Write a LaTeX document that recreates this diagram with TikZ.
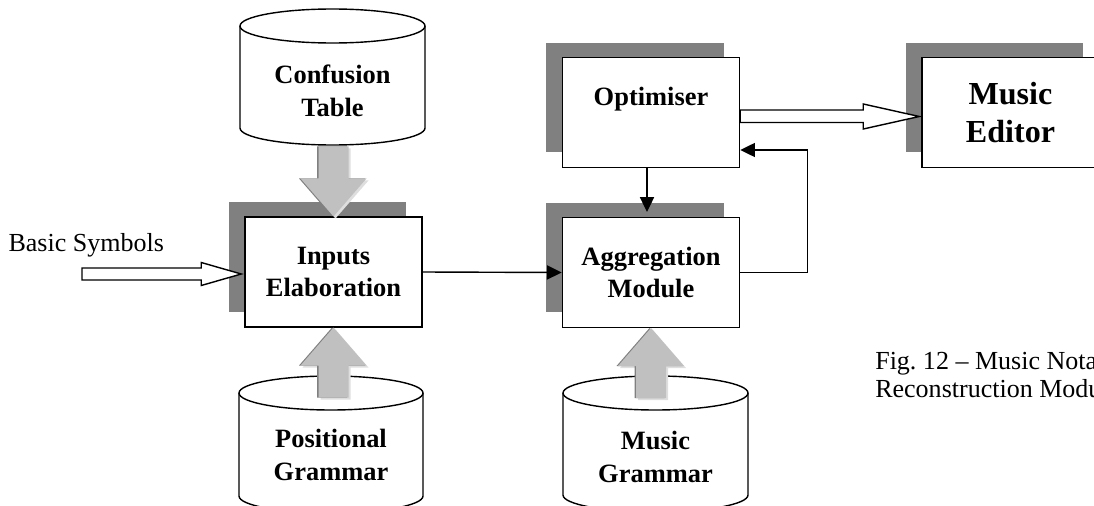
\documentclass[tikz,border=0pt]{standalone}
\usepackage{fontspec}
\setmainfont{Liberation Serif}
\usetikzlibrary{arrows.meta,calc,shadows}

\definecolor{arrgray}{RGB}{192,192,192}
\definecolor{arrlight}{RGB}{222,222,222}
\definecolor{arrdark}{RGB}{128,128,128}

\tikzset{
  modbox/.style={draw, line width=1pt, fill=white, minimum width=4.425cm,
    minimum height=2.74cm, inner sep=0pt, align=center,
    font=\fontsize{18.8}{23.1}\selectfont\bfseries,
    drop shadow={shadow xshift=-0.4cm, shadow yshift=0.375cm, fill=arrdark, opacity=1}},
  dbline/.style={line width=1pt},
  dbtext/.style={align=center, inner sep=0pt, font=\fontsize{18.8}{23.1}\selectfont\bfseries},
  plain/.style={inner sep=0pt, font=\fontsize{18.5}{20}\selectfont},
  conn/.style={line width=1pt, -{Triangle[length=10.5pt,width=10pt]}},
  hollow/.style={draw, line width=1pt, fill=white, line join=miter}
}

% database drum: left x, right x, top y, bottom y
\newcommand{\dbcyl}[4]{%
  \draw[dbline] (#1,#3) -- (#1,#4) arc[start angle=180, end angle=0, x radius={(#2-#1)/2}, y radius=17] -- (#2,#3);
  \draw[dbline] ({(#1+#2)/2},#3) ellipse[x radius={(#2-#1)/2}, y radius=17];
}
% grey block arrow: tip, 1 = points up, -1 = points down
\newcommand{\garrow}[2]{%
  \fill[arrlight, shift={($(#1)+(2,2)$)}, yscale=#2] (0,0) -- (33,38) -- (15,38) -- (15,70) -- (-15,70) -- (-15,38) -- (-33,38) -- cycle;
  \fill[arrdark, shift={($(#1)+(-1.5,0)$)}, yscale=#2] (0,0) -- (33,38) -- (15,38) -- (15,70) -- (-15,70) -- (-15,38) -- (-33,38) -- cycle;
  \fill[arrgray, shift={(#1)}, yscale=#2] (0,0) -- (33,38) -- (15,38) -- (15,70) -- (-15,70) -- (-15,38) -- (-33,38) -- cycle;
}

\begin{document}
\begin{tikzpicture}[x=0.025cm, y=-0.025cm]
  \useasboundingbox (0,0) rectangle (1094,506);
  \clip (0,0) rectangle (1094,506);

  % modules
  \node[modbox] (inp) at (333.5,272) {Inputs\\Elaboration};
  \node[modbox] (agg) at (651,272.5) {Aggregation\\Module};
  \node[modbox] (opt) at (651,112.5) {Optimiser\\\mbox{}};
  \node[modbox, font=\fontsize{22.8}{27}\selectfont\bfseries] (ed) at (1010.5,112.5) {Music\\Editor};

  % databases
  \dbcyl{240}{425}{26}{128}
  \node[dbtext] (conf) at (332.5,91) {Confusion\\Table};
  \dbcyl{239}{423}{393}{496}
  \node[dbtext] (posg) at (331,455) {Positional\\Grammar};
  \dbcyl{563}{748}{393}{495}
  \node[dbtext] (musg) at (655.5,457) {Music\\Grammar};

  % grey arrows
  \garrow{inp.north}{-1}
  \garrow{inp.south}{1}
  \garrow{agg.south}{1}

  % input
  \node[plain, anchor=base west] (bsym) at (8.3,251) {Basic Symbols};
  \coordinate (bs) at (82,274);
  \draw[hollow] ($(bs)+(0,-6)$) -- ($(inp.west)+(-43,-4)$) -- ($(inp.west)+(-43,-9.5)$)
    -- ($(inp.west)+(-3,2)$) -- ($(inp.west)+(-43,13.5)$) -- ($(inp.west)+(-43,8)$)
    -- ($(bs)+(0,6)$) -- cycle;

  % lines
  \draw[conn] (inp.east) -- (agg.west);
  \draw[conn] ($(opt.south)+(-4,0)$) -- ($(agg.north)+(-4,-5)$);
  \draw[conn] (agg.east) -- ++(67,0) |- ($(opt.east)+(0,37.5)$);

  % to editor
  \draw[hollow] ($(opt.east)+(0,-2.5)$) -- ($(ed.west)+(-58,-2.5)$) -- ($(ed.west)+(-58,-8.5)$)
    -- ($(ed.west)+(-2,4)$) -- ($(ed.west)+(-58,16.5)$) -- ($(ed.west)+(-58,10)$)
    -- ($(opt.east)+(0,10)$) -- cycle;

  % caption
  \node[plain, anchor=north west, align=left] (cap) at (875,352) {Fig.\ 12 -- Music Notation\\Reconstruction Module};
\end{tikzpicture}
\end{document}
